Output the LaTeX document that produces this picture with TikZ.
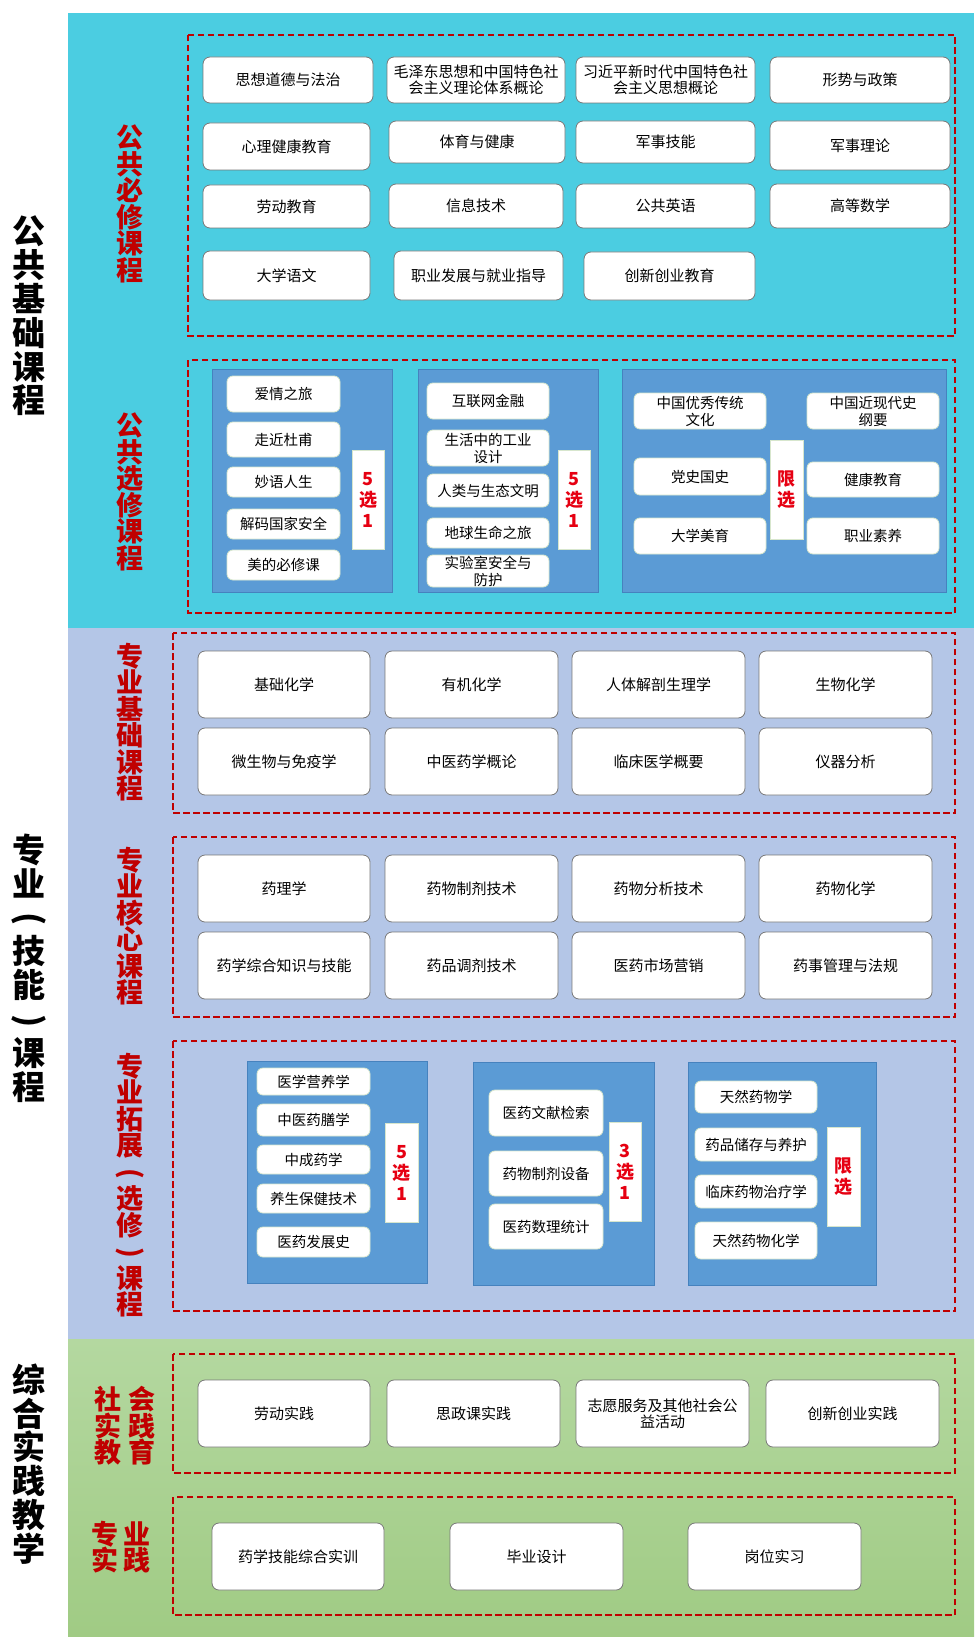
\documentclass[tikz,border=0pt]{standalone}
\usepackage{fontspec}
\setmainfont{Noto Sans CJK SC}
\definecolor{cyanbg}{RGB}{75,205,225}
\definecolor{lavbg}{RGB}{180,198,231}
\definecolor{greentop}{RGB}{180,216,160}
\definecolor{greenbot}{RGB}{160,203,132}
\definecolor{grpblue}{RGB}{91,155,213}
\definecolor{grpedge}{RGB}{70,130,190}
\definecolor{dred}{RGB}{192,0,0}
\definecolor{chred}{RGB}{230,0,18}
\definecolor{boxedge}{RGB}{120,120,120}
\definecolor{iedge}{RGB}{215,230,205}
\newcommand{\tightls}{\lineskiplimit=-50pt\relax}
\newcommand{\vop}{\rotatebox[origin=c]{-90}{(}}
\newcommand{\vcl}{\rotatebox[origin=c]{-90}{)}}
\tikzset{
  cbox/.style={draw=boxedge, line width=0.8pt, fill=white, rounded corners=7pt, inner sep=0pt, align=center, font=\fontsize{15}{16}\selectfont},
  ibox/.style={draw=iedge, line width=0.8pt, fill=white, rounded corners=6pt, inner sep=0pt, align=center, font=\fontsize{14.5}{17}\selectfont},
  chbox/.style={draw=iedge, line width=0.8pt, fill=white, inner sep=0pt, align=center, text=chred, font=\bfseries\fontsize{18}{21}\selectfont},
  dbox/.style={draw=dred, line width=1.8pt, dash pattern=on 6.5pt off 3.5pt},
  grp/.style={fill=grpblue, draw=grpedge, line width=0.6pt},
  biglab/.style={inner sep=0pt, align=center, font={\bfseries\fontsize{33}{33.8}\selectfont\tightls}},
  redlab/.style={inner sep=0pt, align=center, text=dred, font={\bfseries\fontsize{27}{26.5}\selectfont\tightls}},
}
\newcommand{\mybox}[7]{\node[#1,minimum width={#4-#2},minimum height={#5-#3}] (#6) at ({(#2+#4)/2},{(#3+#5)/2}) {#7};}
\begin{document}
\begin{tikzpicture}[x=1pt,y=-1pt]
\useasboundingbox (0,0) rectangle (974,1637);
\fill[white] (0,0) rectangle (974,1637);
\fill[cyanbg] (68,13) rectangle (974,628);
\fill[lavbg] (68,628) rectangle (974,1339);
\shade[top color=greentop,bottom color=greenbot] (68,1339) rectangle (974,1637);

% left labels
\node[biglab] (L1) at (29,316) {公\\共\\基\\础\\课\\程};
\node[biglab] (L2) at (29,968) {专\\业\\\vop\\技\\能\\\vcl\\课\\程};
\node[biglab] (L3) at (29,1464) {综\\合\\实\\践\\教\\学};

% red labels
\node[redlab] (R1) at (130,204) {公\\共\\必\\修\\课\\程};
\node[redlab] (R2) at (130,492) {公\\共\\选\\修\\课\\程};
\node[redlab] (R3) at (130,722) {专\\业\\基\\础\\课\\程};
\node[redlab] (R4) at (130,926) {专\\业\\核\\心\\课\\程};
\node[redlab] (R5) at (130,1185) {专\\业\\拓\\展\\\vop\\选\\修\\\vcl\\课\\程};
\node[redlab] (R6) at (125,1426) {社\hspace{7pt}会\\实\hspace{7pt}践\\教\hspace{7pt}育};
\node[redlab] (R7) at (121,1547) {专\hspace{6pt}业\\实\hspace{6pt}践};

% ===== 公共必修 =====
\draw[dbox] (188,35) rectangle (955,336);
\mybox{cbox}{203}{57}{373}{103}{a11}{思想道德与法治}
\mybox{cbox}{387}{57}{565}{103}{a12}{毛泽东思想和中国特色社\\会主义理论体系概论}
\mybox{cbox}{576}{57}{755}{103}{a13}{习近平新时代中国特色社\\会主义思想概论}
\mybox{cbox}{770}{57}{950}{103}{a14}{形势与政策}
\mybox{cbox}{203}{123}{370}{170}{a21}{心理健康教育}
\mybox{cbox}{389}{121}{565}{163}{a22}{体育与健康}
\mybox{cbox}{576}{121}{755}{163}{a23}{军事技能}
\mybox{cbox}{770}{121}{950}{170}{a24}{军事理论}
\mybox{cbox}{203}{185}{370}{228}{a31}{劳动教育}
\mybox{cbox}{389}{184}{563}{228}{a32}{信息技术}
\mybox{cbox}{576}{184}{755}{228}{a33}{公共英语}
\mybox{cbox}{770}{184}{950}{228}{a34}{高等数学}
\mybox{cbox}{203}{251}{370}{300}{a41}{大学语文}
\mybox{cbox}{394}{251}{563}{300}{a42}{职业发展与就业指导}
\mybox{cbox}{584}{252}{755}{300}{a43}{创新创业教育}

% ===== 公共选修 =====
\draw[dbox] (188,360) rectangle (955,613);
\draw[grp] (212,369) rectangle (392,592);
\mybox{ibox}{227}{376}{340}{412}{b11}{爱情之旅}
\mybox{ibox}{227}{422}{340}{457}{b12}{走近杜甫}
\mybox{ibox}{227}{467}{340}{497}{b13}{妙语人生}
\mybox{ibox}{227}{509}{340}{539}{b14}{解码国家安全}
\mybox{ibox}{227}{550}{340}{580}{b15}{美的必修课}
\mybox{chbox}{352}{450}{384}{549}{b1c}{5\\选\\1}
\draw[grp] (418,369) rectangle (598,592);
\mybox{ibox}{427}{383}{549}{419}{b21}{互联网金融}
\mybox{ibox}{427}{430}{549}{466}{b22}{生活中的工业\\设计}
\mybox{ibox}{427}{474}{549}{507}{b23}{人类与生态文明}
\mybox{ibox}{427}{518}{549}{548}{b24}{地球生命之旅}
\mybox{ibox}{427}{555}{549}{587}{b25}{实验室安全与\\防护}
\mybox{chbox}{558}{450}{590}{549}{b2c}{5\\选\\1}
\draw[grp] (622,369) rectangle (946,592);
\mybox{ibox}{634}{393}{766}{429}{b31}{中国优秀传统\\文化}
\mybox{ibox}{634}{458}{766}{495}{b32}{党史国史}
\mybox{ibox}{634}{518}{766}{554}{b33}{大学美育}
\mybox{ibox}{807}{393}{939}{429}{b34}{中国近现代史\\纲要}
\mybox{ibox}{807}{462}{939}{497}{b35}{健康教育}
\mybox{ibox}{807}{518}{939}{554}{b36}{职业素养}
\mybox{chbox}{770}{440}{803}{539}{b3c}{限\\选}

% ===== 专业基础 =====
\draw[dbox] (173,633) rectangle (955,813);
\mybox{cbox}{198}{651}{370}{718}{c11}{基础化学}
\mybox{cbox}{385}{651}{558}{718}{c12}{有机化学}
\mybox{cbox}{572}{651}{745}{718}{c13}{人体解剖生理学}
\mybox{cbox}{759}{651}{932}{718}{c14}{生物化学}
\mybox{cbox}{198}{728}{370}{795}{c21}{微生物与免疫学}
\mybox{cbox}{385}{728}{558}{795}{c22}{中医药学概论}
\mybox{cbox}{572}{728}{745}{795}{c23}{临床医学概要}
\mybox{cbox}{759}{728}{932}{795}{c24}{仪器分析}

% ===== 专业核心 =====
\draw[dbox] (173,837) rectangle (955,1017);
\mybox{cbox}{198}{855}{370}{922}{d11}{药理学}
\mybox{cbox}{385}{855}{558}{922}{d12}{药物制剂技术}
\mybox{cbox}{572}{855}{745}{922}{d13}{药物分析技术}
\mybox{cbox}{759}{855}{932}{922}{d14}{药物化学}
\mybox{cbox}{198}{932}{370}{999}{d21}{药学综合知识与技能}
\mybox{cbox}{385}{932}{558}{999}{d22}{药品调剂技术}
\mybox{cbox}{572}{932}{745}{999}{d23}{医药市场营销}
\mybox{cbox}{759}{932}{932}{999}{d24}{药事管理与法规}

% ===== 专业拓展 =====
\draw[dbox] (173,1041) rectangle (955,1311);
\draw[grp] (247,1061) rectangle (427,1283);
\mybox{ibox}{257}{1068}{370}{1095}{e11}{医学营养学}
\mybox{ibox}{257}{1104}{370}{1136}{e12}{中医药膳学}
\mybox{ibox}{257}{1145}{370}{1174}{e13}{中成药学}
\mybox{ibox}{257}{1184}{370}{1213}{e14}{养生保健技术}
\mybox{ibox}{257}{1227}{370}{1257}{e15}{医药发展史}
\mybox{chbox}{385}{1123}{418}{1222}{e1c}{5\\选\\1}
\draw[grp] (473,1062) rectangle (654,1285);
\mybox{ibox}{489}{1090}{603}{1136}{e21}{医药文献检索}
\mybox{ibox}{489}{1151}{603}{1196}{e22}{药物制剂设备}
\mybox{ibox}{489}{1204}{603}{1249}{e23}{医药数理统计}
\mybox{chbox}{609}{1122}{641}{1221}{e2c}{3\\选\\1}
\draw[grp] (688,1062) rectangle (876,1285);
\mybox{ibox}{695}{1081}{817}{1113}{e31}{天然药物学}
\mybox{ibox}{695}{1128}{817}{1161}{e32}{药品储存与养护}
\mybox{ibox}{695}{1175}{817}{1208}{e33}{临床药物治疗学}
\mybox{ibox}{695}{1222}{817}{1259}{e34}{天然药物化学}
\mybox{chbox}{827}{1127}{860}{1226}{e3c}{限\\选}

% ===== 社会实践教育 =====
\draw[dbox] (173,1354) rectangle (955,1473);
\mybox{cbox}{198}{1380}{370}{1447}{f1}{劳动实践}
\mybox{cbox}{387}{1380}{560}{1447}{f2}{思政课实践}
\mybox{cbox}{576}{1380}{749}{1447}{f3}{志愿服务及其他社会公\\益活动}
\mybox{cbox}{766}{1380}{939}{1447}{f4}{创新创业实践}

% ===== 专业实践 =====
\draw[dbox] (173,1497) rectangle (955,1615);
\mybox{cbox}{212}{1523}{384}{1590}{g1}{药学技能综合实训}
\mybox{cbox}{450}{1523}{623}{1590}{g2}{毕业设计}
\mybox{cbox}{688}{1523}{861}{1590}{g3}{岗位实习}
\end{tikzpicture}
\end{document}
